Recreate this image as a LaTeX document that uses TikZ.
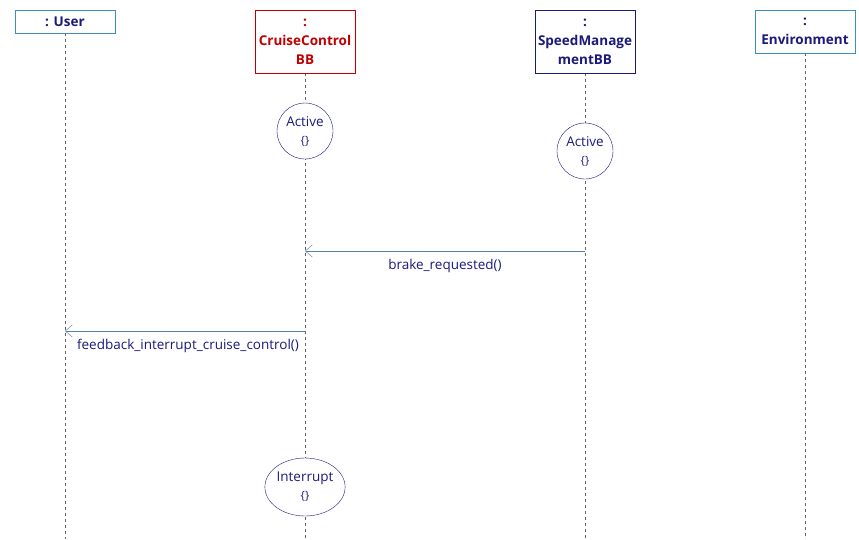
\documentclass[tikz,border=0pt]{standalone}
\usepackage{fontspec}
\setmainfont{Open Sans}
\usetikzlibrary{arrows.meta,shapes.geometric}
\definecolor{navy}{HTML}{1A1A7A}
\definecolor{lightbl}{HTML}{3C8CC8}
\definecolor{redbb}{HTML}{C00000}
\definecolor{msgbl}{HTML}{5A7FA8}
\begin{document}
\begin{tikzpicture}[x=1pt,y=-1pt,
  font=\fontsize{13.5}{18}\selectfont,
  lifebox/.style={draw=lightbl,fill=white,minimum width=100pt,inner sep=1pt,font=\fontsize{13.5}{19}\selectfont\bfseries,text=navy,align=center,anchor=north},
  life/.style={dashed,gray!80!black,thin},
  statenode/.style={draw=navy,fill=white,ellipse,text=navy,align=center,inner sep=0pt},
  msg/.style={msgbl,-{Straight Barb[length=7pt,width=12pt]}}]
\useasboundingbox (0,0) rectangle (859,539);
% lifelines
\draw[life] (65,33) -- (65,539);
\draw[life] (305,73) -- (305,539);
\draw[life] (585,73) -- (585,539);
\draw[life] (805,53) -- (805,539);
% heads
\node[lifebox,minimum height=23pt] (user) at (65,10) {\raisebox{-1.5pt}{: User}};
\node[lifebox,draw=redbb,text=redbb,minimum height=63pt] (cruise) at (305,10) {:\\CruiseControl\\BB};
\node[lifebox,draw=navy,minimum height=63pt] (speed) at (585,10) {:\\SpeedManage\\mentBB};
\node[lifebox,minimum height=43pt] (env) at (805,10) {:\\Environment};
% states
\node[statenode,minimum width=56pt,minimum height=56pt] (active1) at (305,131) {Active\\{\fontsize{11.5}{13}\selectfont\{\}}};
\node[statenode,minimum width=56pt,minimum height=56pt] (active2) at (585,151) {Active\\{\fontsize{11.5}{13}\selectfont\{\}}};
\node[statenode,minimum width=70pt,minimum height=58pt] (interrupt) at (305,487) {Interrupt\\{\fontsize{11.5}{13}\selectfont\{\}}};
% messages
\coordinate (brakeS) at (585,251);
\coordinate (brakeT) at (305,251);
\draw[msg] (brakeS) -- (brakeT) node[midway,below=5pt,text=navy] (brakelbl) {brake\_requested()};
\coordinate (fbS) at (305,331);
\coordinate (fbT) at (65,331);
\draw[msg] (fbS) -- (fbT) node[midway,below=5pt,text=navy,xshift=3pt] (fblbl) {feedback\_interrupt\_cruise\_control()};
\end{tikzpicture}
\end{document}
